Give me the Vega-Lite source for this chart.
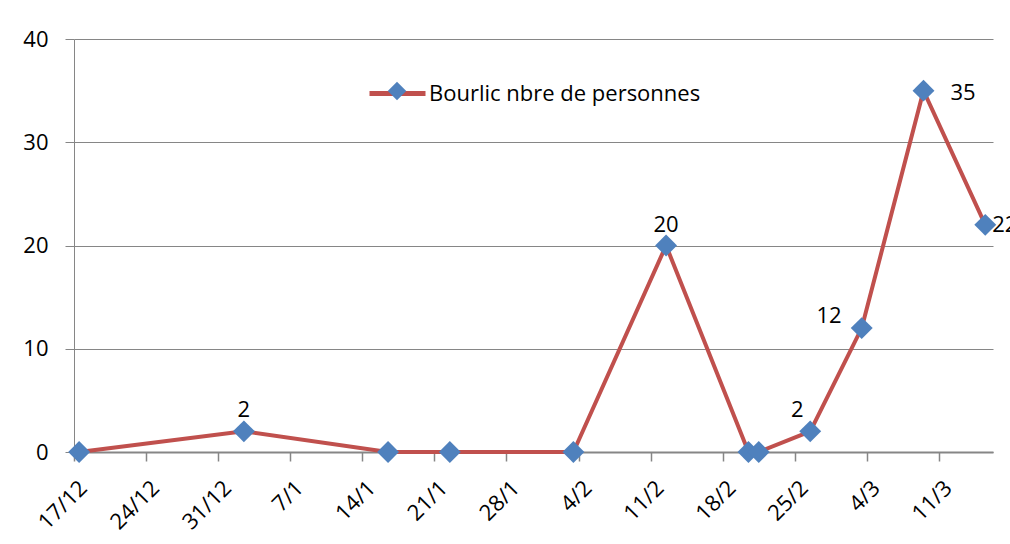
{
  "$schema": "https://vega.github.io/schema/vega-lite/v6.json",
  "width": 919,
  "height": 413,
  "autosize": {"type": "none"},
  "padding": {"left": 74, "top": 39, "right": 17, "bottom": 92},
  "background": "white",
  "config": {
    "view": {"stroke": null},
    "font": "Open Sans",
    "axis": {"labelFont": "Open Sans", "labelColor": "#000000", "domainColor": "#868686", "tickColor": "#868686", "gridColor": "#868686"}
  },
  "data": {
    "values": [
      {"date": "2010-12-17", "value": 0, "serie": "Bourlic nbre de personnes", "marqueur": "Bourlic nbre de personnes"},
      {"date": "2011-01-02", "value": 2, "serie": "Bourlic nbre de personnes", "marqueur": "Bourlic nbre de personnes"},
      {"date": "2011-01-16", "value": 0, "serie": "Bourlic nbre de personnes", "marqueur": "Bourlic nbre de personnes"},
      {"date": "2011-01-22", "value": 0, "serie": "Bourlic nbre de personnes", "marqueur": "Bourlic nbre de personnes"},
      {"date": "2011-02-03", "value": 0, "serie": "Bourlic nbre de personnes", "marqueur": "Bourlic nbre de personnes"},
      {"date": "2011-02-12", "value": 20, "serie": "Bourlic nbre de personnes", "marqueur": "Bourlic nbre de personnes"},
      {"date": "2011-02-20", "value": 0, "serie": "Bourlic nbre de personnes", "marqueur": "Bourlic nbre de personnes"},
      {"date": "2011-02-21", "value": 0, "serie": "Bourlic nbre de personnes", "marqueur": "Bourlic nbre de personnes"},
      {"date": "2011-02-26", "value": 2, "serie": "Bourlic nbre de personnes", "marqueur": "Bourlic nbre de personnes"},
      {"date": "2011-03-03", "value": 12, "serie": "Bourlic nbre de personnes", "marqueur": "Bourlic nbre de personnes"},
      {"date": "2011-03-09", "value": 35, "serie": "Bourlic nbre de personnes", "marqueur": "Bourlic nbre de personnes"},
      {"date": "2011-03-15", "value": 22, "serie": "Bourlic nbre de personnes", "marqueur": "Bourlic nbre de personnes"}
    ]
  },
  "encoding": {
    "x": {
      "field": "date",
      "type": "temporal",
      "timeUnit": "utcyearmonthdate",
      "bandPosition": 0.5,
      "title": null,
      "scale": {
        "type": "utc",
        "domain": [
          {"year": 2010, "month": 12, "date": 17, "utc": true},
          {"year": 2011, "month": 3, "date": 16, "hours": 6, "utc": true}
        ]
      },
      "axis": {
        "values": [
          {"year": 2010, "month": 12, "date": 17, "utc": true},
          {"year": 2010, "month": 12, "date": 24, "utc": true},
          {"year": 2010, "month": 12, "date": 31, "utc": true},
          {"year": 2011, "month": 1, "date": 7, "utc": true},
          {"year": 2011, "month": 1, "date": 14, "utc": true},
          {"year": 2011, "month": 1, "date": 21, "utc": true},
          {"year": 2011, "month": 1, "date": 28, "utc": true},
          {"year": 2011, "month": 2, "date": 4, "utc": true},
          {"year": 2011, "month": 2, "date": 11, "utc": true},
          {"year": 2011, "month": 2, "date": 18, "utc": true},
          {"year": 2011, "month": 2, "date": 25, "utc": true},
          {"year": 2011, "month": 3, "date": 4, "utc": true},
          {"year": 2011, "month": 3, "date": 11, "utc": true}
        ],
        "labelExpr": "utcFormat(datum.value, '%-d/%-m')",
        "labelAngle": -45,
        "labelAlign": "right",
        "labelBaseline": "top",
        "labelFontSize": 22,
        "labelPadding": 16,
        "labelOffset": 2,
        "labelOverlap": false,
        "labelFlush": false,
        "tickSize": 9,
        "tickWidth": 1.5,
        "domainWidth": 2,
        "grid": false
      }
    },
    "y": {
      "field": "value",
      "type": "quantitative",
      "title": null,
      "scale": {"domain": [0, 40], "nice": false, "zero": true},
      "axis": {
        "values": [0, 10, 20, 30, 40],
        "labelFontSize": 22,
        "labelPadding": 17,
        "tickSize": 9,
        "tickWidth": 1,
        "domainWidth": 1,
        "grid": true,
        "gridWidth": 1
      }
    }
  },
  "layer": [
    {
      "mark": {"type": "line", "strokeWidth": 4},
      "encoding": {
        "stroke": {
          "field": "serie",
          "type": "nominal",
          "scale": {"range": ["#C0504D"]},
          "legend": {
            "orient": "none",
            "legendX": 293,
            "legendY": 24,
            "title": null,
            "padding": 0,
            "symbolType": "stroke",
            "symbolSize": 3136,
            "symbolStrokeWidth": 5,
            "symbolStrokeColor": "#C0504D",
            "labelFont": "Open Sans",
            "labelFontSize": 22,
            "labelColor": "#000000",
            "labelOffset": 1,
            "labelLimit": 400
          }
        }
      }
    },
    {
      "mark": {"type": "point", "filled": true, "fill": "#4F81BD", "size": 480, "opacity": 1},
      "encoding": {
        "shape": {
          "field": "marqueur",
          "type": "nominal",
          "scale": {"range": ["diamond"]},
          "legend": {
            "orient": "none",
            "legendX": 312,
            "legendY": 41,
            "title": null,
            "padding": 0,
            "symbolType": "diamond",
            "symbolSize": 340,
            "symbolFillColor": "#4F81BD",
            "symbolStrokeWidth": 0,
            "symbolOpacity": 1,
            "labelExpr": "''",
            "labelFontSize": 22
          }
        }
      }
    },
    {
      "transform": [{"filter": "datum.value == 20 || (datum.value == 2 && toDate(datum.date) < toDate('2011-02-01'))"}],
      "mark": {"type": "text", "fontSize": 22, "font": "Open Sans", "color": "#000000", "baseline": "middle", "align": "center", "dy": -21},
      "encoding": {"text": {"field": "value", "type": "quantitative"}}
    },
    {
      "transform": [{"filter": "datum.value == 2 && toDate(datum.date) > toDate('2011-02-01')"}],
      "mark": {"type": "text", "fontSize": 22, "font": "Open Sans", "color": "#000000", "baseline": "middle", "align": "center", "dx": -13, "dy": -21},
      "encoding": {"text": {"field": "value", "type": "quantitative"}}
    },
    {
      "transform": [{"filter": "datum.value == 12"}],
      "mark": {"type": "text", "fontSize": 22, "font": "Open Sans", "color": "#000000", "baseline": "middle", "align": "right", "dx": -20, "dy": -12},
      "encoding": {"text": {"field": "value", "type": "quantitative"}}
    },
    {
      "transform": [{"filter": "datum.value == 35"}],
      "mark": {"type": "text", "fontSize": 22, "font": "Open Sans", "color": "#000000", "baseline": "middle", "align": "left", "dx": 27, "dy": 2},
      "encoding": {"text": {"field": "value", "type": "quantitative"}}
    },
    {
      "transform": [{"filter": "datum.value == 22"}],
      "mark": {"type": "text", "fontSize": 22, "font": "Open Sans", "color": "#000000", "baseline": "middle", "align": "left", "dx": 7, "dy": 0},
      "encoding": {"text": {"field": "value", "type": "quantitative"}}
    }
  ]
}
